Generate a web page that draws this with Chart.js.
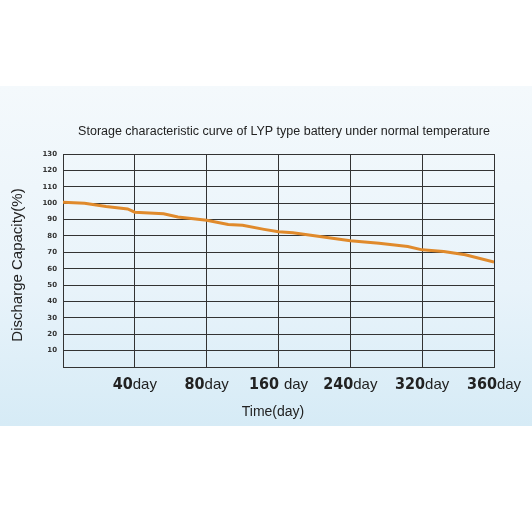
<!DOCTYPE html>
<html>
<head>
<meta charset="utf-8">
<script src="https://cdn.jsdelivr.net/npm/chart.js@4"></script>
<style>
  html, body { margin: 0; padding: 0; background: #fff; }
  #wrap { position: relative; width: 532px; height: 532px; }
  #band {
    position: absolute; left: 0; top: 86px; width: 532px; height: 340px;
    background: linear-gradient(180deg, #f4f9fc 0%, #e8f3fa 60%, #d6ebf6 100%);
  }
  canvas { position: absolute; left: 0; top: 0; }
</style>
</head>
<body>
<div id="wrap">
  <div id="band"></div>
  <canvas id="chart" width="532" height="532"></canvas>
</div>
<script>
// column positions (0..6) and their labels
const tickPos = [1, 2, 3, 4, 5, 6];
const tickNum = ["40", "80", "160 ", "240", "320", "360"];
// discharge capacity curve, x in column units
const curveX = [0, 0.3, 0.6, 0.9, 1.0, 1.4, 1.6, 2.0, 2.3, 2.5, 2.8, 3.0, 3.2, 3.6, 4.0, 4.4, 4.8, 5.0, 5.3, 5.6, 6.0];
const curveY = [100.5, 100, 98, 96.5, 94.5, 93.5, 91.5, 89.5, 87, 86.5, 84, 82.5, 82, 79.5, 77, 75.5, 73.5, 71.5, 70.5, 68.5, 64];

const titleText = "Storage characteristic curve of LYP type battery under normal temperature";
const xTitle = "Time(day)";
const yTitle = "Discharge Capacity(%)";

const points = curveX.map((x, i) => ({ x, y: curveY[i] }));

const NUM_FONT = "bold 16px 'Liberation Sans Narrow', 'DejaVu Sans Condensed', sans-serif";
const DAY_FONT = "15px 'Liberation Sans', sans-serif";

// title, axis titles and "40day" style labels
const textLayer = {
  id: "textLayer",
  afterDraw(chart) {
    const ctx = chart.ctx;
    const xs = chart.scales.x;
    ctx.save();
    ctx.fillStyle = "#222";
    ctx.textBaseline = "alphabetic";

    tickPos.forEach((p, i) => {
      const cx = xs.getPixelForValue(p);
      ctx.font = NUM_FONT;
      const n = tickNum[i];
      const w1 = ctx.measureText(n).width;
      ctx.font = DAY_FONT;
      const w2 = ctx.measureText("day").width;
      const x0 = cx - (w1 + w2) / 2;
      ctx.font = NUM_FONT;
      ctx.fillText(n, x0, 389);
      ctx.font = DAY_FONT;
      ctx.fillText("day", x0 + w1, 389);
    });

    ctx.textAlign = "center";
    ctx.font = "12.5px 'Liberation Sans', sans-serif";
    ctx.fillText(titleText, 284, 135);
    ctx.font = "14px 'Liberation Sans', sans-serif";
    ctx.fillText(xTitle, 273, 416);

    ctx.translate(22, 265);
    ctx.rotate(-Math.PI / 2);
    ctx.font = "15px 'Liberation Sans Narrow', 'Liberation Sans', sans-serif";
    ctx.fillText(yTitle, 0, 0);
    ctx.restore();
  },
};

new Chart(document.getElementById("chart"), {
  type: "line",
  data: {
    datasets: [
      {
        data: points,
        borderColor: "#e08a2c",
        borderWidth: 3,
        pointRadius: 0,
        tension: 0,
      },
    ],
  },
  options: {
    responsive: false,
    animation: false,
    layout: { padding: { left: 0, right: 38, top: 154, bottom: 0 } },
    plugins: {
      legend: { display: false },
      tooltip: { enabled: false },
    },
    scales: {
      x: {
        type: "linear",
        min: 0,
        max: 6,
        afterFit: (s) => { s.height = 165; },
        grid: { color: "#333", lineWidth: 1, drawTicks: false },
        border: { color: "#333" },
        ticks: { stepSize: 1, display: false },
      },
      y: {
        min: 0,
        max: 130,
        afterFit: (s) => { s.width = 63; },
        grid: { color: "#333", lineWidth: 1, drawTicks: false },
        border: { color: "#333" },
        ticks: {
          stepSize: 10,
          color: "#333",
          padding: 6,
          font: { family: "DejaVu Sans", size: 7, weight: "bold" },
          callback: (v) => (v === 0 ? "" : v),
        },
      },
    },
  },
  plugins: [textLayer],
});
</script>
</body>
</html>
